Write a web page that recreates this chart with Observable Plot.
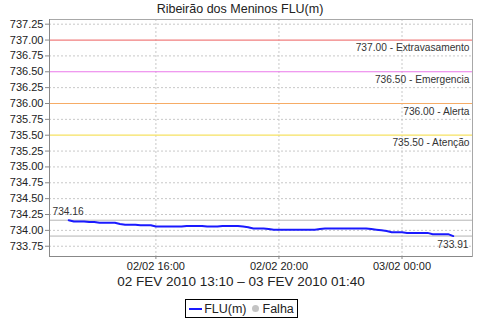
<!DOCTYPE html>
<html>
<head>
<meta charset="utf-8">
<script src="https://cdn.jsdelivr.net/npm/d3@7"></script>
<script src="https://cdn.jsdelivr.net/npm/@observablehq/plot@0.6"></script>
<style>
  html, body { margin: 0; padding: 0; background: #fff; }
  body { position: relative; width: 480px; height: 320px; font-family: "Liberation Sans", Arial, sans-serif; color: #222; overflow: hidden; }
  #title { height: 18px; line-height: 18px; font-size: 12.5px; text-align: center; }
  #chart svg { display: block; }
  #caption { height: 16px; line-height: 16px; font-size: 13.5px; text-align: center; padding-left: 2px; }
  #legend { position: absolute; left: 185px; top: 299px; width: 113px; height: 19px; display: flex; align-items: center; justify-content: center; border: 1px solid #000; font-size: 12.5px; box-sizing: border-box; }
  .sw-line { width: 13px; height: 2px; background: #1a1aff; margin-right: 2px; }
  .sw-dot { width: 7px; height: 7px; border-radius: 50%; background: #c4c4c4; margin: 0 4px 0 5px; }
</style>
</head>
<body>
<div id="title"></div>
<div id="chart"></div>
<div id="caption"></div>
<div id="legend"></div>
<script>
const titleText = "Ribeirão dos Meninos FLU(m)";
const captionText = "02 FEV 2010 13:10 – 03 FEV 2010 01:40";
const seriesName = "FLU(m)";
const failName = "Falha";

// Readings every 10 minutes, starting 2010-02-02 13:10
const startTime = "2010-02-02T13:10:00Z";
const stepMinutes = 10;
const levels = [
  734.16, 734.14, 734.14, 734.14, 734.13, 734.13, 734.12, 734.12, 734.12, 734.12,
  734.10, 734.09, 734.09, 734.09, 734.08, 734.08, 734.08, 734.06, 734.06, 734.06,
  734.06, 734.06, 734.06, 734.07, 734.07, 734.07, 734.07, 734.06, 734.06, 734.06,
  734.07, 734.07, 734.07, 734.07, 734.06, 734.05, 734.03, 734.03, 734.03, 734.02,
  734.01, 734.01, 734.01, 734.01, 734.01, 734.01, 734.01, 734.01, 734.01, 734.02,
  734.03, 734.03, 734.03, 734.03, 734.03, 734.03, 734.03, 734.03, 734.03, 734.02,
  734.01, 734.00, 733.99, 733.97, 733.97, 733.97, 733.96, 733.96, 733.96, 733.96,
  733.96, 733.94, 733.94, 733.94, 733.94, 733.91
];

const thresholdValues = [737.00, 736.50, 736.00, 735.50];
const thresholdNames = ["Extravasamento", "Emergencia", "Alerta", "Atenção"];
const thresholdColors = ["#f07e7e", "#ea78ea", "#f6ac66", "#f6e262"];

const xDomain = ["2010-02-02T12:32:30Z", "2010-02-03T02:17:30Z"];
const xTicks = ["2010-02-02T16:00:00Z", "2010-02-02T20:00:00Z", "2010-02-03T00:00:00Z"];
const xTickLabels = ["02/02 16:00", "02/02 20:00", "03/02 00:00"];
const yDomain = [733.588, 737.324];
const yTicks = [733.75, 734.00, 734.25, 734.50, 734.75, 735.00, 735.25, 735.50, 735.75, 736.00, 736.25, 736.50, 736.75, 737.00, 737.25];

const t0 = new Date(startTime).getTime();
const data = levels.map((v, i) => ({ t: new Date(t0 + i * stepMinutes * 60000), v }));
const thresholds = thresholdValues.map((v, i) => ({ v, label: `${v.toFixed(2)} - ${thresholdNames[i]}`, color: thresholdColors[i] }));
const vMax = d3.max(levels), vMin = d3.min(levels);
const xTickDates = xTicks.map(s => new Date(s));
const tickLabelMap = new Map(xTickDates.map((d, i) => [d.getTime(), xTickLabels[i]]));
const gridYTicks = yTicks.filter(t => !thresholdValues.includes(t));

document.getElementById("title").textContent = titleText;
document.getElementById("caption").textContent = captionText;
document.getElementById("legend").innerHTML =
  `<span class="sw-line"></span><span>${seriesName}</span><span class="sw-dot"></span><span>${failName}</span>`;

const grid = { stroke: "#c8c8c8", strokeOpacity: 1, strokeDasharray: "2,2" };
const chart = Plot.plot({
  width: 480,
  height: 256,
  marginLeft: 49,
  marginRight: 8,
  marginTop: 1,
  marginBottom: 18,
  style: { fontFamily: "Liberation Sans, Arial, sans-serif", fontSize: "11px", color: "#333", background: "#fff" },
  x: { type: "utc", domain: xDomain.map(s => new Date(s)) },
  y: { domain: yDomain },
  marks: [
    Plot.gridX(xTickDates, { ...grid }),
    Plot.gridY(gridYTicks, { ...grid }),
    Plot.ruleY(thresholds, { y: "v", stroke: "color", strokeWidth: 1.2 }),
    Plot.ruleY([vMax, vMin], { stroke: "#b4b4b4", strokeWidth: 1 }),
    Plot.line(data, { x: "t", y: "v", stroke: "#1a1aff", strokeWidth: 2 }),
    Plot.text(thresholds, { y: "v", text: "label", frameAnchor: "right", textAnchor: "end", dx: -3, dy: 8, fontSize: 10.2, fill: "#333" }),
    Plot.text([vMax], { y: d => d, text: d => d.toFixed(2), frameAnchor: "left", textAnchor: "start", dx: 3, dy: -8.5, fontSize: 10.2, fill: "#333" }),
    Plot.text([vMin], { y: d => d, text: d => d.toFixed(2), frameAnchor: "right", textAnchor: "end", dx: -4, dy: 8.7, fontSize: 10.2, fill: "#333" }),
    Plot.frame({ stroke: "#a8a8a8" }),
    Plot.axisY(yTicks, { tickSize: 4, tickPadding: 2, tickFormat: d => d.toFixed(2), stroke: "#888", label: null, fill: "#222" }),
    Plot.axisX(xTickDates, { tickSize: 3, tickPadding: 3, tickFormat: d => tickLabelMap.get(d.getTime()), stroke: "#888", label: null, fill: "#222" }),
    Plot.ruleX([xDomain[0]].map(s => new Date(s)), { stroke: "#888" }),
    Plot.ruleY([yDomain[0]], { stroke: "#888" })
  ]
});
document.getElementById("chart").appendChild(chart);
</script>
</body>
</html>
